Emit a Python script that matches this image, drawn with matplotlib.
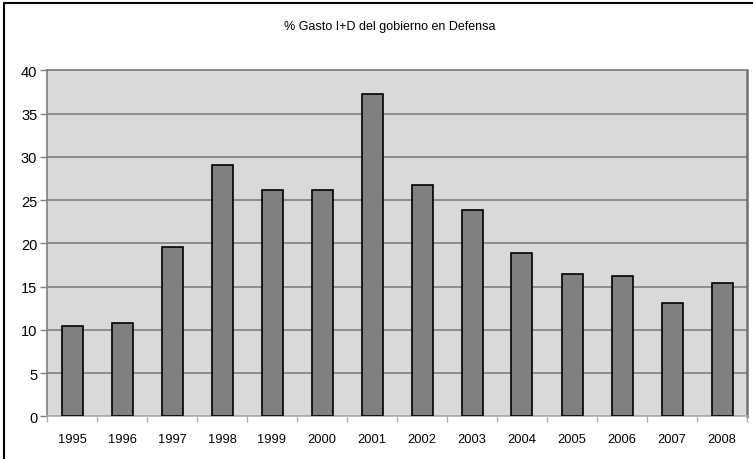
import numpy as np
import matplotlib
matplotlib.use("Agg")
import matplotlib.pyplot as plt
from matplotlib.lines import Line2D

plt.rcParams["font.family"] = ["Liberation Sans", "DejaVu Sans"]

years = ["1995", "1996", "1997", "1998", "1999", "2000", "2001",
         "2002", "2003", "2004", "2005", "2006", "2007", "2008"]
gasto = [10.4, 10.8, 19.6, 29.0, 26.2, 26.2, 37.3,
         26.7, 23.9, 18.9, 16.5, 16.2, 13.1, 15.4]
titulo = "% Gasto I+D del gobierno en Defensa"

fig = plt.figure(figsize=(7.53, 4.60), dpi=100)
W, H = 753, 460
ax = fig.add_axes([47/W, 1-417.3/H, (747-47)/W, (417.3-71.3)/H])

x = np.arange(len(years))
ax.set_facecolor("#d9d9d9")
ax.bar(x, gasto, width=0.42, color="#808080", edgecolor="black", linewidth=1.2, zorder=3)

ax.set_xlim(-0.5, len(years)-0.5)
ax.set_ylim(0, 40)
ax.set_yticks(np.arange(0, 41, 5))
ax.yaxis.grid(True, color="#808080", linewidth=1.2, zorder=1)

ax.set_xticks(x)
ax.set_xticklabels(years, fontsize=9.3)
ax.set_xticks(np.arange(-0.5, len(years), 1), minor=True)
ax.tick_params(axis="x", which="major", length=0, pad=12)
ax.tick_params(axis="x", which="minor", length=4, color="#b0b0b0", width=1)
ax.tick_params(axis="y", labelsize=10.5, length=5, color="#808080", width=1, pad=2)

# marco del area de trazado
for s in ["left", "bottom", "top"]:
    ax.spines[s].set_color("#808080")
    ax.spines[s].set_linewidth(1.2)
ax.spines["bottom"].set_color("#b0b0b0")
ax.spines["right"].set_color("#707070")
ax.spines["right"].set_linewidth(1.8)

fig.text(390/W, 1-27/H, titulo, ha="center", va="center", fontsize=9)

# borde del grafico (solo se ven arriba y a la izquierda)
fig.add_artist(Line2D([4/W, 1], [1-4/H, 1-4/H], transform=fig.transFigure,
                      color="black", linewidth=1.5))
fig.add_artist(Line2D([4/W, 4/W], [0, 1-4/H], transform=fig.transFigure,
                      color="black", linewidth=1.5))

fig.savefig("out.png", dpi=100)
